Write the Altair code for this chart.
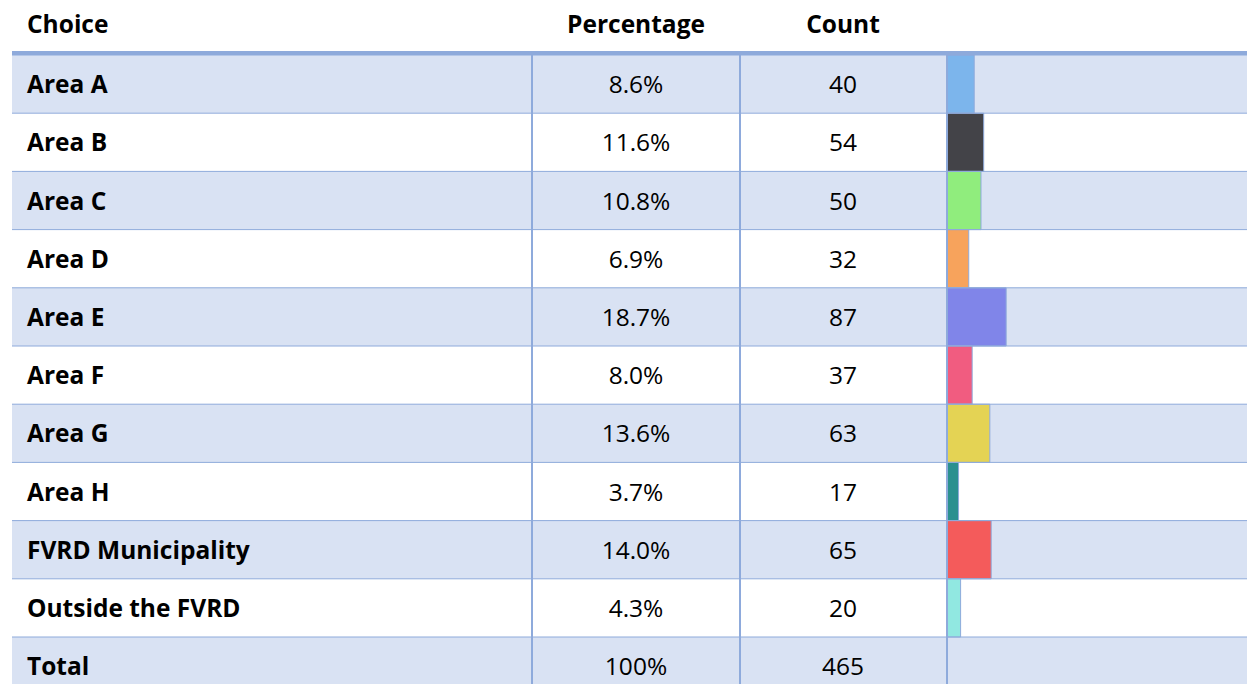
import altair as alt
import pandas as pd

# ---- data ----
choices = ["Area A", "Area B", "Area C", "Area D", "Area E", "Area F", "Area G",
           "Area H", "FVRD Municipality", "Outside the FVRD", "Total"]
percentages = ["8.6%", "11.6%", "10.8%", "6.9%", "18.7%", "8.0%", "13.6%",
               "3.7%", "14.0%", "4.3%", "100%"]
counts = [40, 54, 50, 32, 87, 37, 63, 17, 65, 20, 465]
bar_colors = ["#7CB5EC", "#434348", "#90ED7D", "#F7A35C", "#8085E9",
              "#F15C80", "#E4D354", "#2B908F", "#F45B5B", "#91E8E1"]
headers = ["Choice", "Percentage", "Count"]

# ---- layout / style ----
W, H = 1239, 676
FONT = "Open Sans"
FS = 24.5
DY = 2
LINE = "#8EAADB"
SHADE = "#D9E2F3"
TABLE_L, COL1, COL2, COL3, TABLE_R = 4, 524, 732, 939, 1239
ROW_TOP, ROW_H = 47, 58.2
BAR_MAX = 453
BAR_W = 308

df = pd.DataFrame({
    "choice": choices,
    "pct": percentages,
    "count": counts,
    "shade": ["yes" if i % 2 == 0 else "no" for i in range(len(choices))],
})
bars_df = df[df["choice"] != "Total"].copy()

yscale = alt.Scale(domain=choices, range=[ROW_TOP, ROW_TOP + ROW_H * len(choices)],
                   paddingInner=0, paddingOuter=0)
y_enc = alt.Y("choice:N", sort=choices, scale=yscale, axis=None)

base = alt.Chart(df)

bg = base.mark_rect().encode(
    y=y_enc,
    x=alt.value(TABLE_L), x2=alt.value(TABLE_R),
    fill=alt.Fill("shade:N", scale=alt.Scale(domain=["yes", "no"], range=[SHADE, "#FFFFFF"]), legend=None),
)

bars = alt.Chart(bars_df).mark_bar(stroke=LINE, strokeWidth=1).encode(
    y=y_enc,
    x=alt.X("count:Q", scale=alt.Scale(domain=[0, BAR_MAX], range=[COL3, COL3 + BAR_W], zero=True), axis=None),
    color=alt.Color("choice:N", scale=alt.Scale(domain=choices[:10], range=bar_colors), legend=None),
)

hlines = base.mark_rule(color=LINE, strokeWidth=1).encode(
    y=alt.Y("choice:N", sort=choices, scale=yscale, axis=None, bandPosition=0),
    x=alt.value(TABLE_L), x2=alt.value(TABLE_R),
)

vlines = [
    base.mark_rule(color=LINE, strokeWidth=1).encode(
        x=alt.value(xv), y=alt.value(ROW_TOP), y2=alt.value(H))
    for xv in (COL1, COL2, COL3)
]

header_line = base.mark_rule(color=LINE, strokeWidth=3.5).encode(
    y=alt.value(ROW_TOP - 2), x=alt.value(TABLE_L), x2=alt.value(TABLE_R))

hdf = pd.DataFrame({"h": headers})
hx = {"Choice": 19, "Percentage": 628, "Count": 835}
header_text = [
    alt.Chart(hdf[hdf["h"] == h]).mark_text(
        font=FONT, fontSize=FS, fontWeight="bold", color="#000000",
        align="left" if h == "Choice" else "center", baseline="middle"
    ).encode(text="h:N", x=alt.value(hx[h]), y=alt.value(16 + DY))
    for h in headers
]

label_text = base.mark_text(font=FONT, fontSize=FS, fontWeight="bold", color="#000000",
                            align="left", baseline="middle", dy=DY).encode(
    y=y_enc, x=alt.value(19), text="choice:N")

pct_text = base.mark_text(font=FONT, fontSize=FS, color="#000000",
                          align="center", baseline="middle", dy=DY).encode(
    y=y_enc, x=alt.value(628), text="pct:N")

cnt_text = base.mark_text(font=FONT, fontSize=FS, color="#000000",
                          align="center", baseline="middle", dy=DY).encode(
    y=y_enc, x=alt.value(835), text="count:Q")

chart = alt.layer(bg, bars, hlines, *vlines, header_line, *header_text,
                  label_text, pct_text, cnt_text).properties(
    width=W, height=H, padding=0, autosize="none",
    background="#FFFFFF",
).configure_view(stroke=None)

chart.save("out.html", embed_options={"renderer": "svg", "actions": False})
